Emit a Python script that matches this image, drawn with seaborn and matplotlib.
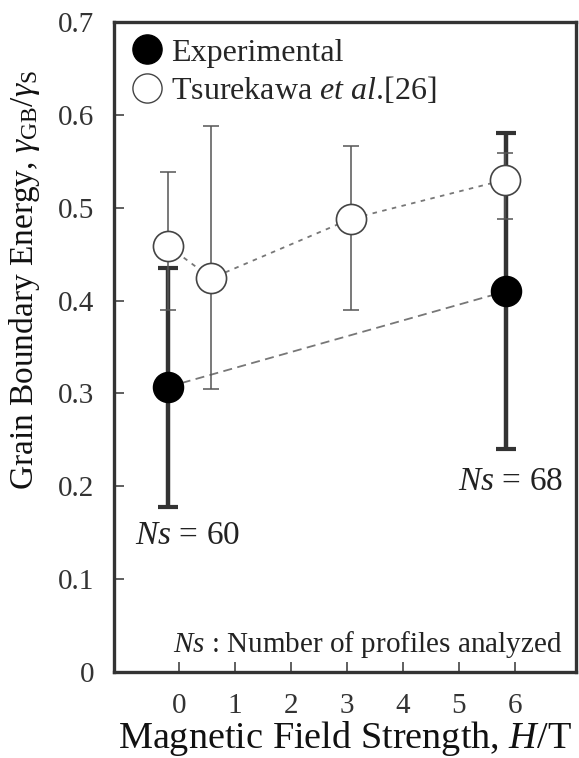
import numpy as np
import matplotlib
matplotlib.use("Agg")
import matplotlib.pyplot as plt
import seaborn as sns
import pandas as pd
from matplotlib.lines import Line2D

# data
exp_x = [-0.2, 5.84]
exp_y = [0.307, 0.41]
exp_lo = [0.178, 0.24]
exp_hi = [0.435, 0.58]

tsu_x = [-0.2, 0.58, 3.07, 5.82]
tsu_y = [0.459, 0.424, 0.488, 0.53]
tsu_lo = [0.39, 0.305, 0.39, 0.488]
tsu_hi = [0.539, 0.588, 0.567, 0.559]

xticks = [0, 1, 2, 3, 4, 5, 6]
yticks = [0, 0.1, 0.2, 0.3, 0.4, 0.5, 0.6, 0.7]
ytick_labels = ["0", "0.1", "0.2", "0.3", "0.4", "0.5", "0.6", "0.7"]

sns.set_style("white")
plt.rcParams['font.family'] = ['Liberation Serif', 'DejaVu Serif']
plt.rcParams['mathtext.fontset'] = 'custom'
plt.rcParams['mathtext.rm'] = 'Liberation Serif'
plt.rcParams['mathtext.it'] = 'Liberation Serif:italic'

fig = plt.figure(figsize=(5.79, 7.58), dpi=100)
ax = fig.add_axes([114/579, 1-672/758, (576-114)/579, (672-22)/758])

df_exp = pd.DataFrame({"x": exp_x, "y": exp_y})
df_tsu = pd.DataFrame({"x": tsu_x, "y": tsu_y})

# error bars
ax.errorbar(exp_x, exp_y,
            yerr=[np.array(exp_y)-np.array(exp_lo), np.array(exp_hi)-np.array(exp_y)],
            fmt="none", ecolor="#333333", elinewidth=3.2, capsize=7, capthick=3, zorder=2)
ax.errorbar(tsu_x, tsu_y,
            yerr=[np.array(tsu_y)-np.array(tsu_lo), np.array(tsu_hi)-np.array(tsu_y)],
            fmt="none", ecolor="#555555", elinewidth=1.1, capsize=6, capthick=1.1, zorder=2)

# connecting lines
sns.lineplot(data=df_exp, x="x", y="y", ax=ax, color="#777777", lw=1.3,
             linestyle=(0, (5, 3)), zorder=1)
sns.lineplot(data=df_tsu, x="x", y="y", ax=ax, color="#777777", lw=1.3,
             linestyle=(0, (2.5, 3)), zorder=1)

# markers
sns.scatterplot(data=df_exp, x="x", y="y", ax=ax, s=470, color="black",
                edgecolor="black", linewidth=1, zorder=4)
sns.scatterplot(data=df_tsu, x="x", y="y", ax=ax, s=470, color="white",
                edgecolor="#444444", linewidth=1.2, zorder=4)

ax.set_xlim(-1.16, 7.09)
ax.set_ylim(0, 0.7)
ax.set_xticks(xticks)
ax.set_yticks(yticks)
ax.set_yticklabels(ytick_labels)
ax.tick_params(direction="in", length=7, width=1.2, color="#444444",
               labelsize=21, labelcolor="#333333", left=True, bottom=True)
ax.tick_params(axis="x", pad=15)
ax.tick_params(axis="y", pad=14)

for s in ax.spines.values():
    s.set_linewidth(2.4)
    s.set_color("#333333")

ax.set_xlabel("Magnetic Field Strength, $H$/T", fontsize=27.5, color="#111111", labelpad=0)
ax.set_ylabel(r"Grain Boundary Energy, $\gamma_{\mathrm{GB}}/\gamma_{\mathrm{S}}$",
              fontsize=24, color="#111111")
ax.yaxis.set_label_coords(-0.155, 0.603)

ax.text(-0.79, 0.138, "$Ns$ = 60", fontsize=24, color="#222222")
ax.text(4.98, 0.196, "$Ns$ = 68", fontsize=24, color="#222222")
ax.text(-0.11, 0.0215, "$Ns$ : Number of profiles analyzed", fontsize=21, color="#222222")

handles = [
    Line2D([], [], marker="o", color="none", markerfacecolor="black",
           markeredgecolor="black", markersize=21),
    Line2D([], [], marker="o", color="none", markerfacecolor="white",
           markeredgecolor="#444444", markersize=21),
]
ax.legend(handles, ["Experimental", "Tsurekawa $et$ $al$.[26]"], loc="upper left",
          bbox_to_anchor=(0.037, 0.975), frameon=False, fontsize=23,
          handlelength=1.0, handletextpad=0.25, borderaxespad=0.0,
          labelspacing=0.23, borderpad=0.0)

fig.savefig("out.png", dpi=100)
